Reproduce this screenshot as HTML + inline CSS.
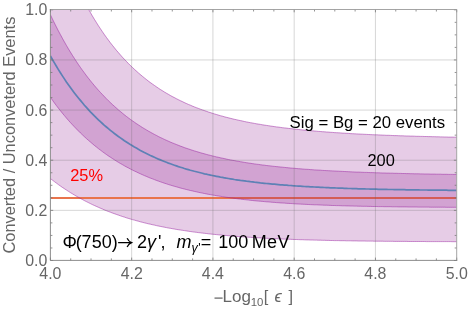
<!DOCTYPE html>
<html><head><meta charset="utf-8"><title>plot</title>
<style>
html,body{margin:0;padding:0;background:#fff;}
body{width:469px;height:309px;overflow:hidden;}
svg{display:block;will-change:transform;font-family:"Liberation Sans",sans-serif;}
.tk text{font-size:15.9px;fill:#666;}
.lab,.lab text{font-size:16.4px;fill:#666;}
.in{font-size:16.4px;fill:#000;}
</style></head><body>
<svg width="469" height="309" viewBox="0 0 469 309">
<defs><clipPath id="cp"><rect x="50.4" y="9.5" width="406.3" height="250.9"/></clipPath></defs>
<rect width="469" height="309" fill="#fff"/>
<g clip-path="url(#cp)">
<path d="M50.4,-81.9 L52.4,-75.8 L54.4,-69.8 L56.4,-64.0 L58.4,-58.4 L60.4,-52.9 L62.4,-47.6 L64.4,-42.5 L66.4,-37.5 L68.4,-32.6 L70.4,-27.9 L72.4,-23.3 L74.4,-18.8 L76.4,-14.5 L78.4,-10.3 L80.4,-6.2 L82.4,-2.2 L84.4,1.6 L86.4,5.3 L88.4,9.0 L90.4,12.5 L92.4,16.0 L94.4,19.3 L96.4,22.5 L98.4,25.7 L100.4,28.7 L102.4,31.7 L104.4,34.6 L106.4,37.4 L108.4,40.1 L110.4,42.8 L112.4,45.3 L114.4,47.8 L116.4,50.3 L118.4,52.6 L120.4,54.9 L122.4,57.2 L124.4,59.3 L126.4,61.4 L128.4,63.5 L130.4,65.5 L132.4,67.4 L134.4,69.3 L136.4,71.1 L138.4,72.9 L140.4,74.6 L142.4,76.3 L144.4,77.9 L146.4,79.5 L148.4,81.1 L150.4,82.6 L152.4,84.0 L154.4,85.4 L156.4,86.8 L158.4,88.2 L160.4,89.5 L162.4,90.7 L164.4,92.0 L166.4,93.2 L168.4,94.3 L170.4,95.5 L172.4,96.6 L174.4,97.6 L176.4,98.7 L178.4,99.7 L180.4,100.7 L182.4,101.6 L184.4,102.6 L186.4,103.5 L188.4,104.4 L190.4,105.2 L192.4,106.1 L194.4,106.9 L196.4,107.7 L198.4,108.4 L200.4,109.2 L202.4,109.9 L204.4,110.6 L206.4,111.3 L208.4,112.0 L210.4,112.6 L212.4,113.3 L214.4,113.9 L216.4,114.5 L218.4,115.1 L220.4,115.7 L222.4,116.2 L224.4,116.8 L226.4,117.3 L228.4,117.8 L230.4,118.3 L232.4,118.8 L234.4,119.3 L236.4,119.7 L238.4,120.2 L240.4,120.6 L242.4,121.0 L244.4,121.5 L246.4,121.9 L248.4,122.3 L250.4,122.7 L252.4,123.0 L254.4,123.4 L256.4,123.8 L258.4,124.1 L260.4,124.4 L262.4,124.8 L264.4,125.1 L266.4,125.4 L268.4,125.7 L270.4,126.0 L272.4,126.3 L274.4,126.6 L276.4,126.9 L278.4,127.1 L280.4,127.4 L282.4,127.7 L284.4,127.9 L286.4,128.1 L288.4,128.4 L290.4,128.6 L292.4,128.8 L294.4,129.1 L296.4,129.3 L298.4,129.5 L300.4,129.7 L302.4,129.9 L304.4,130.1 L306.4,130.3 L308.4,130.5 L310.4,130.7 L312.4,130.8 L314.4,131.0 L316.4,131.2 L318.4,131.4 L320.4,131.5 L322.4,131.7 L324.4,131.8 L326.4,132.0 L328.4,132.1 L330.4,132.3 L332.4,132.4 L334.4,132.6 L336.4,132.7 L338.4,132.8 L340.4,132.9 L342.4,133.1 L344.4,133.2 L346.4,133.3 L348.4,133.4 L350.4,133.6 L352.4,133.7 L354.4,133.8 L356.4,133.9 L358.4,134.0 L360.4,134.1 L362.4,134.2 L364.4,134.3 L366.4,134.4 L368.4,134.5 L370.4,134.6 L372.4,134.7 L374.4,134.8 L376.4,134.8 L378.4,134.9 L380.4,135.0 L382.4,135.1 L384.4,135.2 L386.4,135.3 L388.4,135.3 L390.4,135.4 L392.4,135.5 L394.4,135.6 L396.4,135.6 L398.4,135.7 L400.4,135.8 L402.4,135.8 L404.4,135.9 L406.4,136.0 L408.4,136.0 L410.4,136.1 L412.4,136.1 L414.4,136.2 L416.4,136.3 L418.4,136.3 L420.4,136.4 L422.4,136.4 L424.4,136.5 L426.4,136.5 L428.4,136.6 L430.4,136.6 L432.4,136.7 L434.4,136.7 L436.4,136.8 L438.4,136.8 L440.4,136.9 L442.4,136.9 L444.4,137.0 L446.4,137.0 L448.4,137.1 L450.4,137.1 L452.4,137.1 L454.4,137.2 L456.7,137.2 L456.7,241.7 L454.4,241.7 L452.4,241.7 L450.4,241.6 L448.4,241.6 L446.4,241.6 L444.4,241.6 L442.4,241.6 L440.4,241.6 L438.4,241.6 L436.4,241.6 L434.4,241.6 L432.4,241.6 L430.4,241.6 L428.4,241.6 L426.4,241.6 L424.4,241.5 L422.4,241.5 L420.4,241.5 L418.4,241.5 L416.4,241.5 L414.4,241.5 L412.4,241.5 L410.4,241.5 L408.4,241.5 L406.4,241.4 L404.4,241.4 L402.4,241.4 L400.4,241.4 L398.4,241.4 L396.4,241.4 L394.4,241.4 L392.4,241.3 L390.4,241.3 L388.4,241.3 L386.4,241.3 L384.4,241.3 L382.4,241.2 L380.4,241.2 L378.4,241.2 L376.4,241.2 L374.4,241.2 L372.4,241.1 L370.4,241.1 L368.4,241.1 L366.4,241.1 L364.4,241.0 L362.4,241.0 L360.4,241.0 L358.4,241.0 L356.4,240.9 L354.4,240.9 L352.4,240.9 L350.4,240.8 L348.4,240.8 L346.4,240.8 L344.4,240.7 L342.4,240.7 L340.4,240.7 L338.4,240.6 L336.4,240.6 L334.4,240.6 L332.4,240.5 L330.4,240.5 L328.4,240.4 L326.4,240.4 L324.4,240.3 L322.4,240.3 L320.4,240.2 L318.4,240.2 L316.4,240.1 L314.4,240.1 L312.4,240.0 L310.4,240.0 L308.4,239.9 L306.4,239.9 L304.4,239.8 L302.4,239.7 L300.4,239.7 L298.4,239.6 L296.4,239.5 L294.4,239.5 L292.4,239.4 L290.4,239.3 L288.4,239.2 L286.4,239.2 L284.4,239.1 L282.4,239.0 L280.4,238.9 L278.4,238.8 L276.4,238.7 L274.4,238.7 L272.4,238.6 L270.4,238.5 L268.4,238.4 L266.4,238.3 L264.4,238.2 L262.4,238.1 L260.4,237.9 L258.4,237.8 L256.4,237.7 L254.4,237.6 L252.4,237.5 L250.4,237.3 L248.4,237.2 L246.4,237.1 L244.4,236.9 L242.4,236.8 L240.4,236.7 L238.4,236.5 L236.4,236.4 L234.4,236.2 L232.4,236.0 L230.4,235.9 L228.4,235.7 L226.4,235.5 L224.4,235.4 L222.4,235.2 L220.4,235.0 L218.4,234.8 L216.4,234.6 L214.4,234.4 L212.4,234.2 L210.4,234.0 L208.4,233.8 L206.4,233.5 L204.4,233.3 L202.4,233.1 L200.4,232.8 L198.4,232.6 L196.4,232.3 L194.4,232.1 L192.4,231.8 L190.4,231.5 L188.4,231.2 L186.4,230.9 L184.4,230.6 L182.4,230.3 L180.4,230.0 L178.4,229.7 L176.4,229.4 L174.4,229.0 L172.4,228.7 L170.4,228.3 L168.4,228.0 L166.4,227.6 L164.4,227.2 L162.4,226.8 L160.4,226.4 L158.4,226.0 L156.4,225.6 L154.4,225.1 L152.4,224.7 L150.4,224.2 L148.4,223.8 L146.4,223.3 L144.4,222.8 L142.4,222.3 L140.4,221.8 L138.4,221.2 L136.4,220.7 L134.4,220.1 L132.4,219.6 L130.4,219.0 L128.4,218.4 L126.4,217.8 L124.4,217.1 L122.4,216.5 L120.4,215.8 L118.4,215.1 L116.4,214.4 L114.4,213.7 L112.4,213.0 L110.4,212.2 L108.4,211.5 L106.4,210.7 L104.4,209.9 L102.4,209.0 L100.4,208.2 L98.4,207.3 L96.4,206.4 L94.4,205.5 L92.4,204.6 L90.4,203.6 L88.4,202.6 L86.4,201.6 L84.4,200.6 L82.4,199.5 L80.4,198.4 L78.4,197.3 L76.4,196.2 L74.4,195.0 L72.4,193.8 L70.4,192.6 L68.4,191.3 L66.4,190.0 L64.4,188.7 L62.4,187.4 L60.4,186.0 L58.4,184.6 L56.4,183.1 L54.4,181.6 L52.4,180.1 L50.4,178.5Z" fill="rgb(128,0,128)" fill-opacity="0.2" stroke="none"/>
<line x1="50.4" y1="198" x2="456.7" y2="198" stroke="#E9744C" stroke-width="2"/>
<path d="M50.4,14.7 L52.4,18.9 L54.4,23.0 L56.4,27.0 L58.4,30.9 L60.4,34.6 L62.4,38.3 L64.4,41.9 L66.4,45.4 L68.4,48.8 L70.4,52.1 L72.4,55.3 L74.4,58.4 L76.4,61.5 L78.4,64.5 L80.4,67.4 L82.4,70.2 L84.4,72.9 L86.4,75.6 L88.4,78.2 L90.4,80.7 L92.4,83.2 L94.4,85.6 L96.4,87.9 L98.4,90.2 L100.4,92.4 L102.4,94.5 L104.4,96.6 L106.4,98.7 L108.4,100.7 L110.4,102.6 L112.4,104.5 L114.4,106.3 L116.4,108.1 L118.4,109.9 L120.4,111.5 L122.4,113.2 L124.4,114.8 L126.4,116.4 L128.4,117.9 L130.4,119.4 L132.4,120.8 L134.4,122.2 L136.4,123.6 L138.4,124.9 L140.4,126.2 L142.4,127.5 L144.4,128.7 L146.4,129.9 L148.4,131.1 L150.4,132.2 L152.4,133.3 L154.4,134.4 L156.4,135.4 L158.4,136.5 L160.4,137.5 L162.4,138.4 L164.4,139.4 L166.4,140.3 L168.4,141.2 L170.4,142.1 L172.4,142.9 L174.4,143.7 L176.4,144.5 L178.4,145.3 L180.4,146.1 L182.4,146.8 L184.4,147.6 L186.4,148.3 L188.4,148.9 L190.4,149.6 L192.4,150.3 L194.4,150.9 L196.4,151.5 L198.4,152.1 L200.4,152.7 L202.4,153.3 L204.4,153.8 L206.4,154.4 L208.4,154.9 L210.4,155.4 L212.4,155.9 L214.4,156.4 L216.4,156.9 L218.4,157.3 L220.4,157.8 L222.4,158.2 L224.4,158.6 L226.4,159.1 L228.4,159.5 L230.4,159.9 L232.4,160.3 L234.4,160.6 L236.4,161.0 L238.4,161.3 L240.4,161.7 L242.4,162.0 L244.4,162.4 L246.4,162.7 L248.4,163.0 L250.4,163.3 L252.4,163.6 L254.4,163.9 L256.4,164.2 L258.4,164.4 L260.4,164.7 L262.4,165.0 L264.4,165.2 L266.4,165.5 L268.4,165.7 L270.4,165.9 L272.4,166.2 L274.4,166.4 L276.4,166.6 L278.4,166.8 L280.4,167.0 L282.4,167.2 L284.4,167.4 L286.4,167.6 L288.4,167.8 L290.4,168.0 L292.4,168.2 L294.4,168.3 L296.4,168.5 L298.4,168.7 L300.4,168.8 L302.4,169.0 L304.4,169.2 L306.4,169.3 L308.4,169.4 L310.4,169.6 L312.4,169.7 L314.4,169.9 L316.4,170.0 L318.4,170.1 L320.4,170.2 L322.4,170.4 L324.4,170.5 L326.4,170.6 L328.4,170.7 L330.4,170.8 L332.4,170.9 L334.4,171.0 L336.4,171.1 L338.4,171.2 L340.4,171.3 L342.4,171.4 L344.4,171.5 L346.4,171.6 L348.4,171.7 L350.4,171.8 L352.4,171.9 L354.4,172.0 L356.4,172.1 L358.4,172.1 L360.4,172.2 L362.4,172.3 L364.4,172.4 L366.4,172.4 L368.4,172.5 L370.4,172.6 L372.4,172.6 L374.4,172.7 L376.4,172.8 L378.4,172.8 L380.4,172.9 L382.4,173.0 L384.4,173.0 L386.4,173.1 L388.4,173.1 L390.4,173.2 L392.4,173.2 L394.4,173.3 L396.4,173.3 L398.4,173.4 L400.4,173.4 L402.4,173.5 L404.4,173.5 L406.4,173.6 L408.4,173.6 L410.4,173.7 L412.4,173.7 L414.4,173.8 L416.4,173.8 L418.4,173.8 L420.4,173.9 L422.4,173.9 L424.4,174.0 L426.4,174.0 L428.4,174.0 L430.4,174.1 L432.4,174.1 L434.4,174.1 L436.4,174.2 L438.4,174.2 L440.4,174.2 L442.4,174.3 L444.4,174.3 L446.4,174.3 L448.4,174.4 L450.4,174.4 L452.4,174.4 L454.4,174.5 L456.7,174.5 L456.7,207.3 L454.4,207.3 L452.4,207.3 L450.4,207.3 L448.4,207.3 L446.4,207.3 L444.4,207.2 L442.4,207.2 L440.4,207.2 L438.4,207.2 L436.4,207.2 L434.4,207.2 L432.4,207.2 L430.4,207.2 L428.4,207.1 L426.4,207.1 L424.4,207.1 L422.4,207.1 L420.4,207.1 L418.4,207.1 L416.4,207.0 L414.4,207.0 L412.4,207.0 L410.4,207.0 L408.4,207.0 L406.4,206.9 L404.4,206.9 L402.4,206.9 L400.4,206.9 L398.4,206.9 L396.4,206.8 L394.4,206.8 L392.4,206.8 L390.4,206.7 L388.4,206.7 L386.4,206.7 L384.4,206.7 L382.4,206.6 L380.4,206.6 L378.4,206.6 L376.4,206.5 L374.4,206.5 L372.4,206.5 L370.4,206.4 L368.4,206.4 L366.4,206.3 L364.4,206.3 L362.4,206.3 L360.4,206.2 L358.4,206.2 L356.4,206.1 L354.4,206.1 L352.4,206.0 L350.4,206.0 L348.4,205.9 L346.4,205.9 L344.4,205.8 L342.4,205.8 L340.4,205.7 L338.4,205.6 L336.4,205.6 L334.4,205.5 L332.4,205.5 L330.4,205.4 L328.4,205.3 L326.4,205.2 L324.4,205.2 L322.4,205.1 L320.4,205.0 L318.4,204.9 L316.4,204.8 L314.4,204.8 L312.4,204.7 L310.4,204.6 L308.4,204.5 L306.4,204.4 L304.4,204.3 L302.4,204.2 L300.4,204.1 L298.4,204.0 L296.4,203.9 L294.4,203.8 L292.4,203.6 L290.4,203.5 L288.4,203.4 L286.4,203.3 L284.4,203.1 L282.4,203.0 L280.4,202.9 L278.4,202.7 L276.4,202.6 L274.4,202.4 L272.4,202.3 L270.4,202.1 L268.4,201.9 L266.4,201.8 L264.4,201.6 L262.4,201.4 L260.4,201.2 L258.4,201.1 L256.4,200.9 L254.4,200.7 L252.4,200.5 L250.4,200.3 L248.4,200.0 L246.4,199.8 L244.4,199.6 L242.4,199.4 L240.4,199.1 L238.4,198.9 L236.4,198.6 L234.4,198.4 L232.4,198.1 L230.4,197.8 L228.4,197.5 L226.4,197.3 L224.4,197.0 L222.4,196.6 L220.4,196.3 L218.4,196.0 L216.4,195.7 L214.4,195.3 L212.4,195.0 L210.4,194.6 L208.4,194.3 L206.4,193.9 L204.4,193.5 L202.4,193.1 L200.4,192.7 L198.4,192.3 L196.4,191.8 L194.4,191.4 L192.4,190.9 L190.4,190.5 L188.4,190.0 L186.4,189.5 L184.4,189.0 L182.4,188.5 L180.4,188.0 L178.4,187.4 L176.4,186.8 L174.4,186.3 L172.4,185.7 L170.4,185.1 L168.4,184.5 L166.4,183.8 L164.4,183.2 L162.4,182.5 L160.4,181.8 L158.4,181.1 L156.4,180.4 L154.4,179.6 L152.4,178.8 L150.4,178.1 L148.4,177.3 L146.4,176.4 L144.4,175.6 L142.4,174.7 L140.4,173.8 L138.4,172.9 L136.4,171.9 L134.4,171.0 L132.4,170.0 L130.4,169.0 L128.4,167.9 L126.4,166.9 L124.4,165.8 L122.4,164.6 L120.4,163.5 L118.4,162.3 L116.4,161.1 L114.4,159.8 L112.4,158.5 L110.4,157.2 L108.4,155.9 L106.4,154.5 L104.4,153.1 L102.4,151.6 L100.4,150.1 L98.4,148.6 L96.4,147.0 L94.4,145.4 L92.4,143.7 L90.4,142.0 L88.4,140.3 L86.4,138.5 L84.4,136.7 L82.4,134.8 L80.4,132.9 L78.4,130.9 L76.4,128.9 L74.4,126.8 L72.4,124.7 L70.4,122.5 L68.4,120.3 L66.4,118.0 L64.4,115.6 L62.4,113.2 L60.4,110.7 L58.4,108.2 L56.4,105.6 L54.4,102.9 L52.4,100.1 L50.4,97.3Z" fill="rgb(128,0,128)" fill-opacity="0.2" stroke="none"/>
<g fill="none" stroke="rgb(150,30,160)" stroke-opacity="0.7" stroke-width="0.7">
<path d="M50.4,-81.9 L52.4,-75.8 L54.4,-69.8 L56.4,-64.0 L58.4,-58.4 L60.4,-52.9 L62.4,-47.6 L64.4,-42.5 L66.4,-37.5 L68.4,-32.6 L70.4,-27.9 L72.4,-23.3 L74.4,-18.8 L76.4,-14.5 L78.4,-10.3 L80.4,-6.2 L82.4,-2.2 L84.4,1.6 L86.4,5.3 L88.4,9.0 L90.4,12.5 L92.4,16.0 L94.4,19.3 L96.4,22.5 L98.4,25.7 L100.4,28.7 L102.4,31.7 L104.4,34.6 L106.4,37.4 L108.4,40.1 L110.4,42.8 L112.4,45.3 L114.4,47.8 L116.4,50.3 L118.4,52.6 L120.4,54.9 L122.4,57.2 L124.4,59.3 L126.4,61.4 L128.4,63.5 L130.4,65.5 L132.4,67.4 L134.4,69.3 L136.4,71.1 L138.4,72.9 L140.4,74.6 L142.4,76.3 L144.4,77.9 L146.4,79.5 L148.4,81.1 L150.4,82.6 L152.4,84.0 L154.4,85.4 L156.4,86.8 L158.4,88.2 L160.4,89.5 L162.4,90.7 L164.4,92.0 L166.4,93.2 L168.4,94.3 L170.4,95.5 L172.4,96.6 L174.4,97.6 L176.4,98.7 L178.4,99.7 L180.4,100.7 L182.4,101.6 L184.4,102.6 L186.4,103.5 L188.4,104.4 L190.4,105.2 L192.4,106.1 L194.4,106.9 L196.4,107.7 L198.4,108.4 L200.4,109.2 L202.4,109.9 L204.4,110.6 L206.4,111.3 L208.4,112.0 L210.4,112.6 L212.4,113.3 L214.4,113.9 L216.4,114.5 L218.4,115.1 L220.4,115.7 L222.4,116.2 L224.4,116.8 L226.4,117.3 L228.4,117.8 L230.4,118.3 L232.4,118.8 L234.4,119.3 L236.4,119.7 L238.4,120.2 L240.4,120.6 L242.4,121.0 L244.4,121.5 L246.4,121.9 L248.4,122.3 L250.4,122.7 L252.4,123.0 L254.4,123.4 L256.4,123.8 L258.4,124.1 L260.4,124.4 L262.4,124.8 L264.4,125.1 L266.4,125.4 L268.4,125.7 L270.4,126.0 L272.4,126.3 L274.4,126.6 L276.4,126.9 L278.4,127.1 L280.4,127.4 L282.4,127.7 L284.4,127.9 L286.4,128.1 L288.4,128.4 L290.4,128.6 L292.4,128.8 L294.4,129.1 L296.4,129.3 L298.4,129.5 L300.4,129.7 L302.4,129.9 L304.4,130.1 L306.4,130.3 L308.4,130.5 L310.4,130.7 L312.4,130.8 L314.4,131.0 L316.4,131.2 L318.4,131.4 L320.4,131.5 L322.4,131.7 L324.4,131.8 L326.4,132.0 L328.4,132.1 L330.4,132.3 L332.4,132.4 L334.4,132.6 L336.4,132.7 L338.4,132.8 L340.4,132.9 L342.4,133.1 L344.4,133.2 L346.4,133.3 L348.4,133.4 L350.4,133.6 L352.4,133.7 L354.4,133.8 L356.4,133.9 L358.4,134.0 L360.4,134.1 L362.4,134.2 L364.4,134.3 L366.4,134.4 L368.4,134.5 L370.4,134.6 L372.4,134.7 L374.4,134.8 L376.4,134.8 L378.4,134.9 L380.4,135.0 L382.4,135.1 L384.4,135.2 L386.4,135.3 L388.4,135.3 L390.4,135.4 L392.4,135.5 L394.4,135.6 L396.4,135.6 L398.4,135.7 L400.4,135.8 L402.4,135.8 L404.4,135.9 L406.4,136.0 L408.4,136.0 L410.4,136.1 L412.4,136.1 L414.4,136.2 L416.4,136.3 L418.4,136.3 L420.4,136.4 L422.4,136.4 L424.4,136.5 L426.4,136.5 L428.4,136.6 L430.4,136.6 L432.4,136.7 L434.4,136.7 L436.4,136.8 L438.4,136.8 L440.4,136.9 L442.4,136.9 L444.4,137.0 L446.4,137.0 L448.4,137.1 L450.4,137.1 L452.4,137.1 L454.4,137.2 L456.7,137.2"/><path d="M50.4,178.5 L52.4,180.1 L54.4,181.6 L56.4,183.1 L58.4,184.6 L60.4,186.0 L62.4,187.4 L64.4,188.7 L66.4,190.0 L68.4,191.3 L70.4,192.6 L72.4,193.8 L74.4,195.0 L76.4,196.2 L78.4,197.3 L80.4,198.4 L82.4,199.5 L84.4,200.6 L86.4,201.6 L88.4,202.6 L90.4,203.6 L92.4,204.6 L94.4,205.5 L96.4,206.4 L98.4,207.3 L100.4,208.2 L102.4,209.0 L104.4,209.9 L106.4,210.7 L108.4,211.5 L110.4,212.2 L112.4,213.0 L114.4,213.7 L116.4,214.4 L118.4,215.1 L120.4,215.8 L122.4,216.5 L124.4,217.1 L126.4,217.8 L128.4,218.4 L130.4,219.0 L132.4,219.6 L134.4,220.1 L136.4,220.7 L138.4,221.2 L140.4,221.8 L142.4,222.3 L144.4,222.8 L146.4,223.3 L148.4,223.8 L150.4,224.2 L152.4,224.7 L154.4,225.1 L156.4,225.6 L158.4,226.0 L160.4,226.4 L162.4,226.8 L164.4,227.2 L166.4,227.6 L168.4,228.0 L170.4,228.3 L172.4,228.7 L174.4,229.0 L176.4,229.4 L178.4,229.7 L180.4,230.0 L182.4,230.3 L184.4,230.6 L186.4,230.9 L188.4,231.2 L190.4,231.5 L192.4,231.8 L194.4,232.1 L196.4,232.3 L198.4,232.6 L200.4,232.8 L202.4,233.1 L204.4,233.3 L206.4,233.5 L208.4,233.8 L210.4,234.0 L212.4,234.2 L214.4,234.4 L216.4,234.6 L218.4,234.8 L220.4,235.0 L222.4,235.2 L224.4,235.4 L226.4,235.5 L228.4,235.7 L230.4,235.9 L232.4,236.0 L234.4,236.2 L236.4,236.4 L238.4,236.5 L240.4,236.7 L242.4,236.8 L244.4,236.9 L246.4,237.1 L248.4,237.2 L250.4,237.3 L252.4,237.5 L254.4,237.6 L256.4,237.7 L258.4,237.8 L260.4,237.9 L262.4,238.1 L264.4,238.2 L266.4,238.3 L268.4,238.4 L270.4,238.5 L272.4,238.6 L274.4,238.7 L276.4,238.7 L278.4,238.8 L280.4,238.9 L282.4,239.0 L284.4,239.1 L286.4,239.2 L288.4,239.2 L290.4,239.3 L292.4,239.4 L294.4,239.5 L296.4,239.5 L298.4,239.6 L300.4,239.7 L302.4,239.7 L304.4,239.8 L306.4,239.9 L308.4,239.9 L310.4,240.0 L312.4,240.0 L314.4,240.1 L316.4,240.1 L318.4,240.2 L320.4,240.2 L322.4,240.3 L324.4,240.3 L326.4,240.4 L328.4,240.4 L330.4,240.5 L332.4,240.5 L334.4,240.6 L336.4,240.6 L338.4,240.6 L340.4,240.7 L342.4,240.7 L344.4,240.7 L346.4,240.8 L348.4,240.8 L350.4,240.8 L352.4,240.9 L354.4,240.9 L356.4,240.9 L358.4,241.0 L360.4,241.0 L362.4,241.0 L364.4,241.0 L366.4,241.1 L368.4,241.1 L370.4,241.1 L372.4,241.1 L374.4,241.2 L376.4,241.2 L378.4,241.2 L380.4,241.2 L382.4,241.2 L384.4,241.3 L386.4,241.3 L388.4,241.3 L390.4,241.3 L392.4,241.3 L394.4,241.4 L396.4,241.4 L398.4,241.4 L400.4,241.4 L402.4,241.4 L404.4,241.4 L406.4,241.4 L408.4,241.5 L410.4,241.5 L412.4,241.5 L414.4,241.5 L416.4,241.5 L418.4,241.5 L420.4,241.5 L422.4,241.5 L424.4,241.5 L426.4,241.6 L428.4,241.6 L430.4,241.6 L432.4,241.6 L434.4,241.6 L436.4,241.6 L438.4,241.6 L440.4,241.6 L442.4,241.6 L444.4,241.6 L446.4,241.6 L448.4,241.6 L450.4,241.6 L452.4,241.7 L454.4,241.7 L456.7,241.7"/><path d="M50.4,14.7 L52.4,18.9 L54.4,23.0 L56.4,27.0 L58.4,30.9 L60.4,34.6 L62.4,38.3 L64.4,41.9 L66.4,45.4 L68.4,48.8 L70.4,52.1 L72.4,55.3 L74.4,58.4 L76.4,61.5 L78.4,64.5 L80.4,67.4 L82.4,70.2 L84.4,72.9 L86.4,75.6 L88.4,78.2 L90.4,80.7 L92.4,83.2 L94.4,85.6 L96.4,87.9 L98.4,90.2 L100.4,92.4 L102.4,94.5 L104.4,96.6 L106.4,98.7 L108.4,100.7 L110.4,102.6 L112.4,104.5 L114.4,106.3 L116.4,108.1 L118.4,109.9 L120.4,111.5 L122.4,113.2 L124.4,114.8 L126.4,116.4 L128.4,117.9 L130.4,119.4 L132.4,120.8 L134.4,122.2 L136.4,123.6 L138.4,124.9 L140.4,126.2 L142.4,127.5 L144.4,128.7 L146.4,129.9 L148.4,131.1 L150.4,132.2 L152.4,133.3 L154.4,134.4 L156.4,135.4 L158.4,136.5 L160.4,137.5 L162.4,138.4 L164.4,139.4 L166.4,140.3 L168.4,141.2 L170.4,142.1 L172.4,142.9 L174.4,143.7 L176.4,144.5 L178.4,145.3 L180.4,146.1 L182.4,146.8 L184.4,147.6 L186.4,148.3 L188.4,148.9 L190.4,149.6 L192.4,150.3 L194.4,150.9 L196.4,151.5 L198.4,152.1 L200.4,152.7 L202.4,153.3 L204.4,153.8 L206.4,154.4 L208.4,154.9 L210.4,155.4 L212.4,155.9 L214.4,156.4 L216.4,156.9 L218.4,157.3 L220.4,157.8 L222.4,158.2 L224.4,158.6 L226.4,159.1 L228.4,159.5 L230.4,159.9 L232.4,160.3 L234.4,160.6 L236.4,161.0 L238.4,161.3 L240.4,161.7 L242.4,162.0 L244.4,162.4 L246.4,162.7 L248.4,163.0 L250.4,163.3 L252.4,163.6 L254.4,163.9 L256.4,164.2 L258.4,164.4 L260.4,164.7 L262.4,165.0 L264.4,165.2 L266.4,165.5 L268.4,165.7 L270.4,165.9 L272.4,166.2 L274.4,166.4 L276.4,166.6 L278.4,166.8 L280.4,167.0 L282.4,167.2 L284.4,167.4 L286.4,167.6 L288.4,167.8 L290.4,168.0 L292.4,168.2 L294.4,168.3 L296.4,168.5 L298.4,168.7 L300.4,168.8 L302.4,169.0 L304.4,169.2 L306.4,169.3 L308.4,169.4 L310.4,169.6 L312.4,169.7 L314.4,169.9 L316.4,170.0 L318.4,170.1 L320.4,170.2 L322.4,170.4 L324.4,170.5 L326.4,170.6 L328.4,170.7 L330.4,170.8 L332.4,170.9 L334.4,171.0 L336.4,171.1 L338.4,171.2 L340.4,171.3 L342.4,171.4 L344.4,171.5 L346.4,171.6 L348.4,171.7 L350.4,171.8 L352.4,171.9 L354.4,172.0 L356.4,172.1 L358.4,172.1 L360.4,172.2 L362.4,172.3 L364.4,172.4 L366.4,172.4 L368.4,172.5 L370.4,172.6 L372.4,172.6 L374.4,172.7 L376.4,172.8 L378.4,172.8 L380.4,172.9 L382.4,173.0 L384.4,173.0 L386.4,173.1 L388.4,173.1 L390.4,173.2 L392.4,173.2 L394.4,173.3 L396.4,173.3 L398.4,173.4 L400.4,173.4 L402.4,173.5 L404.4,173.5 L406.4,173.6 L408.4,173.6 L410.4,173.7 L412.4,173.7 L414.4,173.8 L416.4,173.8 L418.4,173.8 L420.4,173.9 L422.4,173.9 L424.4,174.0 L426.4,174.0 L428.4,174.0 L430.4,174.1 L432.4,174.1 L434.4,174.1 L436.4,174.2 L438.4,174.2 L440.4,174.2 L442.4,174.3 L444.4,174.3 L446.4,174.3 L448.4,174.4 L450.4,174.4 L452.4,174.4 L454.4,174.5 L456.7,174.5"/><path d="M50.4,97.3 L52.4,100.1 L54.4,102.9 L56.4,105.6 L58.4,108.2 L60.4,110.7 L62.4,113.2 L64.4,115.6 L66.4,118.0 L68.4,120.3 L70.4,122.5 L72.4,124.7 L74.4,126.8 L76.4,128.9 L78.4,130.9 L80.4,132.9 L82.4,134.8 L84.4,136.7 L86.4,138.5 L88.4,140.3 L90.4,142.0 L92.4,143.7 L94.4,145.4 L96.4,147.0 L98.4,148.6 L100.4,150.1 L102.4,151.6 L104.4,153.1 L106.4,154.5 L108.4,155.9 L110.4,157.2 L112.4,158.5 L114.4,159.8 L116.4,161.1 L118.4,162.3 L120.4,163.5 L122.4,164.6 L124.4,165.8 L126.4,166.9 L128.4,167.9 L130.4,169.0 L132.4,170.0 L134.4,171.0 L136.4,171.9 L138.4,172.9 L140.4,173.8 L142.4,174.7 L144.4,175.6 L146.4,176.4 L148.4,177.3 L150.4,178.1 L152.4,178.8 L154.4,179.6 L156.4,180.4 L158.4,181.1 L160.4,181.8 L162.4,182.5 L164.4,183.2 L166.4,183.8 L168.4,184.5 L170.4,185.1 L172.4,185.7 L174.4,186.3 L176.4,186.8 L178.4,187.4 L180.4,188.0 L182.4,188.5 L184.4,189.0 L186.4,189.5 L188.4,190.0 L190.4,190.5 L192.4,190.9 L194.4,191.4 L196.4,191.8 L198.4,192.3 L200.4,192.7 L202.4,193.1 L204.4,193.5 L206.4,193.9 L208.4,194.3 L210.4,194.6 L212.4,195.0 L214.4,195.3 L216.4,195.7 L218.4,196.0 L220.4,196.3 L222.4,196.6 L224.4,197.0 L226.4,197.3 L228.4,197.5 L230.4,197.8 L232.4,198.1 L234.4,198.4 L236.4,198.6 L238.4,198.9 L240.4,199.1 L242.4,199.4 L244.4,199.6 L246.4,199.8 L248.4,200.0 L250.4,200.3 L252.4,200.5 L254.4,200.7 L256.4,200.9 L258.4,201.1 L260.4,201.2 L262.4,201.4 L264.4,201.6 L266.4,201.8 L268.4,201.9 L270.4,202.1 L272.4,202.3 L274.4,202.4 L276.4,202.6 L278.4,202.7 L280.4,202.9 L282.4,203.0 L284.4,203.1 L286.4,203.3 L288.4,203.4 L290.4,203.5 L292.4,203.6 L294.4,203.8 L296.4,203.9 L298.4,204.0 L300.4,204.1 L302.4,204.2 L304.4,204.3 L306.4,204.4 L308.4,204.5 L310.4,204.6 L312.4,204.7 L314.4,204.8 L316.4,204.8 L318.4,204.9 L320.4,205.0 L322.4,205.1 L324.4,205.2 L326.4,205.2 L328.4,205.3 L330.4,205.4 L332.4,205.5 L334.4,205.5 L336.4,205.6 L338.4,205.6 L340.4,205.7 L342.4,205.8 L344.4,205.8 L346.4,205.9 L348.4,205.9 L350.4,206.0 L352.4,206.0 L354.4,206.1 L356.4,206.1 L358.4,206.2 L360.4,206.2 L362.4,206.3 L364.4,206.3 L366.4,206.3 L368.4,206.4 L370.4,206.4 L372.4,206.5 L374.4,206.5 L376.4,206.5 L378.4,206.6 L380.4,206.6 L382.4,206.6 L384.4,206.7 L386.4,206.7 L388.4,206.7 L390.4,206.7 L392.4,206.8 L394.4,206.8 L396.4,206.8 L398.4,206.9 L400.4,206.9 L402.4,206.9 L404.4,206.9 L406.4,206.9 L408.4,207.0 L410.4,207.0 L412.4,207.0 L414.4,207.0 L416.4,207.0 L418.4,207.1 L420.4,207.1 L422.4,207.1 L424.4,207.1 L426.4,207.1 L428.4,207.1 L430.4,207.2 L432.4,207.2 L434.4,207.2 L436.4,207.2 L438.4,207.2 L440.4,207.2 L442.4,207.2 L444.4,207.2 L446.4,207.3 L448.4,207.3 L450.4,207.3 L452.4,207.3 L454.4,207.3 L456.7,207.3"/>
</g>
<path d="M50.4,55.9 L52.4,59.5 L54.4,62.9 L56.4,66.3 L58.4,69.6 L60.4,72.8 L62.4,75.9 L64.4,78.9 L66.4,81.9 L68.4,84.7 L70.4,87.5 L72.4,90.2 L74.4,92.9 L76.4,95.5 L78.4,98.0 L80.4,100.4 L82.4,102.8 L84.4,105.2 L86.4,107.4 L88.4,109.6 L90.4,111.8 L92.4,113.8 L94.4,115.9 L96.4,117.9 L98.4,119.8 L100.4,121.7 L102.4,123.5 L104.4,125.3 L106.4,127.0 L108.4,128.7 L110.4,130.3 L112.4,131.9 L114.4,133.5 L116.4,135.0 L118.4,136.5 L120.4,137.9 L122.4,139.3 L124.4,140.7 L126.4,142.0 L128.4,143.3 L130.4,144.6 L132.4,145.8 L134.4,147.0 L136.4,148.1 L138.4,149.3 L140.4,150.4 L142.4,151.4 L144.4,152.5 L146.4,153.5 L148.4,154.5 L150.4,155.5 L152.4,156.4 L154.4,157.3 L156.4,158.2 L158.4,159.1 L160.4,159.9 L162.4,160.7 L164.4,161.5 L166.4,162.3 L168.4,163.1 L170.4,163.8 L172.4,164.5 L174.4,165.2 L176.4,165.9 L178.4,166.6 L180.4,167.2 L182.4,167.8 L184.4,168.5 L186.4,169.1 L188.4,169.6 L190.4,170.2 L192.4,170.7 L194.4,171.3 L196.4,171.8 L198.4,172.3 L200.4,172.8 L202.4,173.3 L204.4,173.8 L206.4,174.2 L208.4,174.7 L210.4,175.1 L212.4,175.5 L214.4,175.9 L216.4,176.3 L218.4,176.7 L220.4,177.1 L222.4,177.4 L224.4,177.8 L226.4,178.2 L228.4,178.5 L230.4,178.8 L232.4,179.1 L234.4,179.5 L236.4,179.8 L238.4,180.1 L240.4,180.4 L242.4,180.6 L244.4,180.9 L246.4,181.2 L248.4,181.4 L250.4,181.7 L252.4,181.9 L254.4,182.2 L256.4,182.4 L258.4,182.6 L260.4,182.9 L262.4,183.1 L264.4,183.3 L266.4,183.5 L268.4,183.7 L270.4,183.9 L272.4,184.1 L274.4,184.2 L276.4,184.4 L278.4,184.6 L280.4,184.8 L282.4,184.9 L284.4,185.1 L286.4,185.2 L288.4,185.4 L290.4,185.5 L292.4,185.7 L294.4,185.8 L296.4,186.0 L298.4,186.1 L300.4,186.2 L302.4,186.3 L304.4,186.5 L306.4,186.6 L308.4,186.7 L310.4,186.8 L312.4,186.9 L314.4,187.0 L316.4,187.1 L318.4,187.2 L320.4,187.3 L322.4,187.4 L324.4,187.5 L326.4,187.6 L328.4,187.7 L330.4,187.8 L332.4,187.9 L334.4,187.9 L336.4,188.0 L338.4,188.1 L340.4,188.2 L342.4,188.2 L344.4,188.3 L346.4,188.4 L348.4,188.5 L350.4,188.5 L352.4,188.6 L354.4,188.6 L356.4,188.7 L358.4,188.8 L360.4,188.8 L362.4,188.9 L364.4,188.9 L366.4,189.0 L368.4,189.0 L370.4,189.1 L372.4,189.1 L374.4,189.2 L376.4,189.2 L378.4,189.3 L380.4,189.3 L382.4,189.4 L384.4,189.4 L386.4,189.4 L388.4,189.5 L390.4,189.5 L392.4,189.5 L394.4,189.6 L396.4,189.6 L398.4,189.7 L400.4,189.7 L402.4,189.7 L404.4,189.7 L406.4,189.8 L408.4,189.8 L410.4,189.8 L412.4,189.9 L414.4,189.9 L416.4,189.9 L418.4,189.9 L420.4,190.0 L422.4,190.0 L424.4,190.0 L426.4,190.0 L428.4,190.1 L430.4,190.1 L432.4,190.1 L434.4,190.1 L436.4,190.1 L438.4,190.2 L440.4,190.2 L442.4,190.2 L444.4,190.2 L446.4,190.2 L448.4,190.3 L450.4,190.3 L452.4,190.3 L454.4,190.3 L456.7,190.3" fill="none" stroke="#5E81B5" stroke-width="1.7"/>
</g>
<g stroke="rgb(100,100,100)" stroke-opacity="0.26" stroke-width="1"><line x1="131.66" y1="9.5" x2="131.66" y2="260.4"/><line x1="212.92" y1="9.5" x2="212.92" y2="260.4"/><line x1="294.18" y1="9.5" x2="294.18" y2="260.4"/><line x1="375.44" y1="9.5" x2="375.44" y2="260.4"/><line x1="50.4" y1="210.36" x2="456.7" y2="210.36"/><line x1="50.4" y1="160.22" x2="456.7" y2="160.22"/><line x1="50.4" y1="110.08" x2="456.7" y2="110.08"/><line x1="50.4" y1="59.94" x2="456.7" y2="59.94"/></g>
<g stroke="#777" stroke-width="0.8"><line x1="50.40" y1="260.4" x2="50.40" y2="257.59999999999997"/><line x1="50.40" y1="9.5" x2="50.40" y2="12.3"/><line x1="70.71" y1="260.4" x2="70.71" y2="258.4"/><line x1="70.71" y1="9.5" x2="70.71" y2="11.5"/><line x1="91.03" y1="260.4" x2="91.03" y2="258.4"/><line x1="91.03" y1="9.5" x2="91.03" y2="11.5"/><line x1="111.35" y1="260.4" x2="111.35" y2="258.4"/><line x1="111.35" y1="9.5" x2="111.35" y2="11.5"/><line x1="131.66" y1="260.4" x2="131.66" y2="257.59999999999997"/><line x1="131.66" y1="9.5" x2="131.66" y2="12.3"/><line x1="151.97" y1="260.4" x2="151.97" y2="258.4"/><line x1="151.97" y1="9.5" x2="151.97" y2="11.5"/><line x1="172.29" y1="260.4" x2="172.29" y2="258.4"/><line x1="172.29" y1="9.5" x2="172.29" y2="11.5"/><line x1="192.60" y1="260.4" x2="192.60" y2="258.4"/><line x1="192.60" y1="9.5" x2="192.60" y2="11.5"/><line x1="212.92" y1="260.4" x2="212.92" y2="257.59999999999997"/><line x1="212.92" y1="9.5" x2="212.92" y2="12.3"/><line x1="233.24" y1="260.4" x2="233.24" y2="258.4"/><line x1="233.24" y1="9.5" x2="233.24" y2="11.5"/><line x1="253.55" y1="260.4" x2="253.55" y2="258.4"/><line x1="253.55" y1="9.5" x2="253.55" y2="11.5"/><line x1="273.86" y1="260.4" x2="273.86" y2="258.4"/><line x1="273.86" y1="9.5" x2="273.86" y2="11.5"/><line x1="294.18" y1="260.4" x2="294.18" y2="257.59999999999997"/><line x1="294.18" y1="9.5" x2="294.18" y2="12.3"/><line x1="314.50" y1="260.4" x2="314.50" y2="258.4"/><line x1="314.50" y1="9.5" x2="314.50" y2="11.5"/><line x1="334.81" y1="260.4" x2="334.81" y2="258.4"/><line x1="334.81" y1="9.5" x2="334.81" y2="11.5"/><line x1="355.12" y1="260.4" x2="355.12" y2="258.4"/><line x1="355.12" y1="9.5" x2="355.12" y2="11.5"/><line x1="375.44" y1="260.4" x2="375.44" y2="257.59999999999997"/><line x1="375.44" y1="9.5" x2="375.44" y2="12.3"/><line x1="395.75" y1="260.4" x2="395.75" y2="258.4"/><line x1="395.75" y1="9.5" x2="395.75" y2="11.5"/><line x1="416.07" y1="260.4" x2="416.07" y2="258.4"/><line x1="416.07" y1="9.5" x2="416.07" y2="11.5"/><line x1="436.39" y1="260.4" x2="436.39" y2="258.4"/><line x1="436.39" y1="9.5" x2="436.39" y2="11.5"/><line x1="456.70" y1="260.4" x2="456.70" y2="257.59999999999997"/><line x1="456.70" y1="9.5" x2="456.70" y2="12.3"/><line x1="50.4" y1="260.50" x2="53.199999999999996" y2="260.50"/><line x1="456.7" y1="260.50" x2="453.9" y2="260.50"/><line x1="50.4" y1="247.97" x2="52.4" y2="247.97"/><line x1="456.7" y1="247.97" x2="454.7" y2="247.97"/><line x1="50.4" y1="235.43" x2="52.4" y2="235.43"/><line x1="456.7" y1="235.43" x2="454.7" y2="235.43"/><line x1="50.4" y1="222.89" x2="52.4" y2="222.89"/><line x1="456.7" y1="222.89" x2="454.7" y2="222.89"/><line x1="50.4" y1="210.36" x2="53.199999999999996" y2="210.36"/><line x1="456.7" y1="210.36" x2="453.9" y2="210.36"/><line x1="50.4" y1="197.82" x2="52.4" y2="197.82"/><line x1="456.7" y1="197.82" x2="454.7" y2="197.82"/><line x1="50.4" y1="185.29" x2="52.4" y2="185.29"/><line x1="456.7" y1="185.29" x2="454.7" y2="185.29"/><line x1="50.4" y1="172.75" x2="52.4" y2="172.75"/><line x1="456.7" y1="172.75" x2="454.7" y2="172.75"/><line x1="50.4" y1="160.22" x2="53.199999999999996" y2="160.22"/><line x1="456.7" y1="160.22" x2="453.9" y2="160.22"/><line x1="50.4" y1="147.69" x2="52.4" y2="147.69"/><line x1="456.7" y1="147.69" x2="454.7" y2="147.69"/><line x1="50.4" y1="135.15" x2="52.4" y2="135.15"/><line x1="456.7" y1="135.15" x2="454.7" y2="135.15"/><line x1="50.4" y1="122.62" x2="52.4" y2="122.62"/><line x1="456.7" y1="122.62" x2="454.7" y2="122.62"/><line x1="50.4" y1="110.08" x2="53.199999999999996" y2="110.08"/><line x1="456.7" y1="110.08" x2="453.9" y2="110.08"/><line x1="50.4" y1="97.55" x2="52.4" y2="97.55"/><line x1="456.7" y1="97.55" x2="454.7" y2="97.55"/><line x1="50.4" y1="85.01" x2="52.4" y2="85.01"/><line x1="456.7" y1="85.01" x2="454.7" y2="85.01"/><line x1="50.4" y1="72.48" x2="52.4" y2="72.48"/><line x1="456.7" y1="72.48" x2="454.7" y2="72.48"/><line x1="50.4" y1="59.94" x2="53.199999999999996" y2="59.94"/><line x1="456.7" y1="59.94" x2="453.9" y2="59.94"/><line x1="50.4" y1="47.41" x2="52.4" y2="47.41"/><line x1="456.7" y1="47.41" x2="454.7" y2="47.41"/><line x1="50.4" y1="34.87" x2="52.4" y2="34.87"/><line x1="456.7" y1="34.87" x2="454.7" y2="34.87"/><line x1="50.4" y1="22.34" x2="52.4" y2="22.34"/><line x1="456.7" y1="22.34" x2="454.7" y2="22.34"/><line x1="50.4" y1="9.80" x2="53.199999999999996" y2="9.80"/><line x1="456.7" y1="9.80" x2="453.9" y2="9.80"/></g>
<g fill="none" stroke-width="0.9" stroke-linecap="square"><path d="M50.4,9.5 H456.7 V260.4" stroke="#9a9a9a"/><path d="M50.4,9.5 V260.4 H456.7" stroke="#808080"/></g>
<g class="tk"><text x="50.4" y="278.6" text-anchor="middle">4.0</text><text x="131.7" y="278.6" text-anchor="middle">4.2</text><text x="212.9" y="278.6" text-anchor="middle">4.4</text><text x="294.2" y="278.6" text-anchor="middle">4.6</text><text x="375.4" y="278.6" text-anchor="middle">4.8</text><text x="456.7" y="278.6" text-anchor="middle">5.0</text><text x="47.3" y="265.9" text-anchor="end">0.0</text><text x="47.3" y="215.8" text-anchor="end">0.2</text><text x="47.3" y="165.6" text-anchor="end">0.4</text><text x="47.3" y="115.5" text-anchor="end">0.6</text><text x="47.3" y="65.3" text-anchor="end">0.8</text><text x="47.3" y="15.2" text-anchor="end">1.0</text></g>
<g class="lab"><line x1="214.5" y1="298.1" x2="222.6" y2="298.1" stroke="#666" stroke-width="1.25"/><text x="222.5" y="302.3" style="font-size:17px">Log</text><text x="250.7" y="306.2" style="font-size:11.4px">10</text><text x="263.8" y="302.3">[</text><text x="274.5" y="302.3" font-style="italic" style="font-size:16.4px">ϵ</text><text x="288.6" y="302.3">]</text></g>
<text class="lab" transform="translate(14.8,135.1) rotate(-90)" text-anchor="middle">Converted / Unconveterd Events</text>
<text class="in" x="289.6" y="127.75" style="font-size:16.75px">Sig = Bg = 20 events</text>
<text class="in" x="367.5" y="165.5">200</text>
<text class="in" x="70.2" y="180.8" fill="#f00" style="fill:#f00">25%</text>
<g class="ph" font-size="18px" fill="#000">
<text x="62.47" y="247.5">Φ</text><text x="75.63" y="247.5">(750)</text>
<path d="M118.1,242.65 H131.3 M127.1,238.2 Q128.6,241.4 131.6,242.65 Q128.6,243.9 127.1,247.1" fill="none" stroke="#000" stroke-width="1.25" stroke-linecap="butt" stroke-linejoin="miter"/>
<text x="136.9" y="247.5">2</text><text x="146.92" y="247.5" font-style="italic">γ</text><text x="158.1" y="247.5">'</text><text x="160.4" y="247.5">,</text>
<text x="176.6" y="247.5" font-style="italic">m</text><text x="191.62" y="251.6" font-size="12.5px" font-style="italic">γ</text><text x="198.17" y="251.6" font-size="12.5px">'</text>
<text x="200.8" y="247.5">=</text><text x="218.3" y="247.5">100</text><text x="251.7" y="247.5" letter-spacing="0.35">MeV</text>
</g>
</svg>
</body></html>
